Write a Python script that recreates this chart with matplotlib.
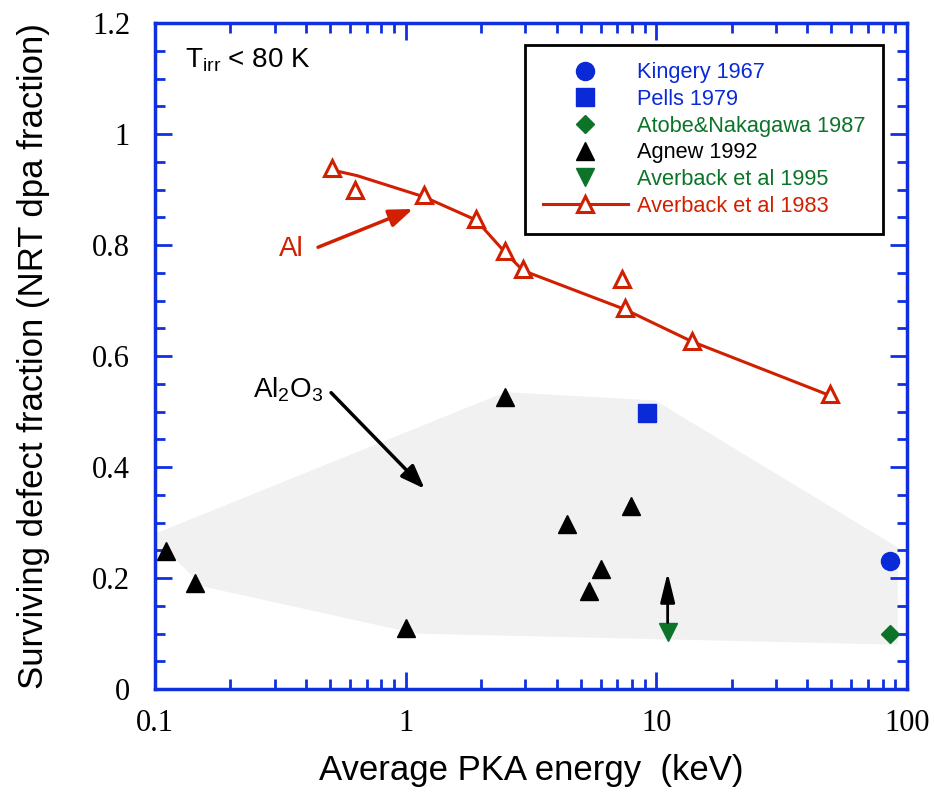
import numpy as np
import matplotlib
matplotlib.use("Agg")
import matplotlib.pyplot as plt
from matplotlib.lines import Line2D
from matplotlib.ticker import LogLocator, MultipleLocator, NullFormatter

plt.rcParams['font.family'] = ['Liberation Sans', 'DejaVu Sans']
plt.rcParams['mathtext.fontset'] = 'custom'
plt.rcParams['mathtext.rm'] = 'Liberation Sans'

# --- Data ---
# Averback et al 1983 (Al), open red triangles
al_x = [0.51, 0.63, 1.18, 1.91, 2.49, 2.94, 7.29, 7.5, 13.9, 49.2]
al_y = [0.939, 0.900, 0.890, 0.847, 0.789, 0.756, 0.738, 0.686, 0.628, 0.531]
# guide line through the Al data
al_line_x = [0.51, 0.64, 1.18, 1.91, 2.49, 2.94, 7.5, 13.9, 49.2]
al_line_y = [0.935, 0.925, 0.887, 0.845, 0.787, 0.754, 0.684, 0.626, 0.529]

# Agnew 1992 (Al2O3), filled black triangles
agnew_x = [0.1106, 0.1444, 1.0, 2.49, 4.40, 5.38, 6.01, 7.92]
agnew_y = [0.249, 0.191, 0.110, 0.527, 0.298, 0.177, 0.217, 0.329]

kingery_x = [85.5]
kingery_y = [0.231]
pells_x = [9.17]
pells_y = [0.498]
atobe_x = [85.5]
atobe_y = [0.099]
averback95_x = [11.1]
averback95_y = [0.102]

# shaded Al2O3 envelope
band_x = [0.1, 2.5, 9.9, 92, 92, 1.1, 0.155, 0.117, 0.1]
band_y = [0.28, 0.535, 0.52, 0.255, 0.08, 0.10, 0.185, 0.24, 0.245]

BLUE = '#0a2ad8'
AXBLUE = '#1030e0'
GREEN = '#0b7428'
RED = '#d02000'

fig = plt.figure(figsize=(9.34, 7.93), dpi=100)
ax = fig.add_axes([0.166, 0.131, 0.805, 0.840])

ax.fill(band_x, band_y, color='#f1f1f1', lw=0, zorder=0)

ax.plot(al_line_x, al_line_y, color=RED, lw=2.2, zorder=2)
ax.plot(al_x, al_y, ls='none', marker='^', ms=11, mfc='white', mec=RED, mew=2.2, zorder=3)
ax.plot(agnew_x, agnew_y, ls='none', marker='^', ms=12.5, color='black', zorder=3)
ax.plot(kingery_x, kingery_y, ls='none', marker='o', ms=13, color=BLUE, zorder=3)
ax.plot(pells_x, pells_y, ls='none', marker='s', ms=12.5, color=BLUE, zorder=3)
ax.plot(atobe_x, atobe_y, ls='none', marker='D', ms=9, color=GREEN, zorder=3)
ax.plot(averback95_x, averback95_y, ls='none', marker='v', ms=12.5, color=GREEN, zorder=3)

# arrows and annotations
ax.annotate('', xy=(11.1, 0.21), xytext=(11.1, 0.12),
            arrowprops=dict(arrowstyle='-|>,head_width=0.22,head_length=0.9',
                            color='black', lw=2, mutation_scale=20,
                            shrinkA=0, shrinkB=0))
ax.annotate('', xy=(1.07, 0.865), xytext=(0.447, 0.796),
            arrowprops=dict(arrowstyle='-|>,head_width=0.3,head_length=0.8',
                            color=RED, lw=2.5, mutation_scale=18,
                            shrinkA=0, shrinkB=0))
ax.annotate('', xy=(1.19, 0.361), xytext=(0.504, 0.534),
            arrowprops=dict(arrowstyle='-|>,head_width=0.3,head_length=0.8',
                            color='black', lw=2.5, mutation_scale=18,
                            shrinkA=0, shrinkB=0))

ax.text(0.351, 0.792, 'Al', color=RED, fontsize=20, ha='center', va='center')
ax.text(0.246, 0.525, r'Al$_\mathrm{2}$O$_\mathrm{3}$', fontsize=20, ha='left', va='baseline')
ax.text(0.132, 1.121, r'T$_\mathrm{irr}$ < 80 K', fontsize=20, ha='left', va='baseline')

# axes
ax.set_xscale('log')
ax.set_xlim(0.1, 100)
ax.set_ylim(0, 1.2)
ax.set_xticks([0.1, 1, 10, 100])
ax.set_xticklabels(['0.1', '1', '10', '100'])
ax.xaxis.set_minor_locator(LogLocator(base=10, subs=np.arange(2, 10)))
ax.xaxis.set_minor_formatter(NullFormatter())
ax.set_yticks([0, 0.2, 0.4, 0.6, 0.8, 1.0, 1.2])
ax.set_yticklabels(['0', '0.2', '0.4', '0.6', '0.8', '1', '1.2'])
ax.yaxis.set_minor_locator(MultipleLocator(0.05))

for s in ax.spines.values():
    s.set_color(AXBLUE)
    s.set_linewidth(2.5)
ax.tick_params(which='both', direction='in', color=AXBLUE, top=True, right=True, width=2)
ax.tick_params(which='major', length=12, labelsize=22)
ax.tick_params(which='minor', length=7)
ax.tick_params(axis='y', which='major', pad=18)
ax.tick_params(axis='x', which='major', pad=14)
for lab in ax.get_xticklabels() + ax.get_yticklabels():
    lab.set_fontfamily('Liberation Serif')

ax.set_xlabel('Average PKA energy  (keV)', fontsize=25, labelpad=12)
ax.set_ylabel('Surviving defect fraction (NRT dpa fraction)', fontsize=25, labelpad=30)

# legend
handles = [
    Line2D([], [], ls='none', marker='o', ms=13, color=BLUE),
    Line2D([], [], ls='none', marker='s', ms=12.5, color=BLUE),
    Line2D([], [], ls='none', marker='D', ms=9, color=GREEN),
    Line2D([], [], ls='none', marker='^', ms=12.5, color='black'),
    Line2D([], [], ls='none', marker='v', ms=12.5, color=GREEN),
    Line2D([], [], color=RED, lw=2.2, marker='^', ms=11, mfc='white', mec=RED, mew=2.2),
]
labels = ['Kingery 1967', 'Pells 1979', 'Atobe&Nakagawa 1987', 'Agnew 1992',
          'Averback et al 1995', 'Averback et al 1983']
label_colors = [BLUE, BLUE, GREEN, 'black', GREEN, RED]
leg = ax.legend(handles, labels, loc='upper right', bbox_to_anchor=(0.968, 0.967),
                fontsize=15.7, frameon=True, fancybox=False, edgecolor='black',
                framealpha=1, handlelength=3.9, handletextpad=0.42, labelspacing=0.26,
                borderpad=0.8, borderaxespad=0)
leg.get_frame().set_linewidth(2)
for t, c in zip(leg.get_texts(), label_colors):
    t.set_color(c)

fig.savefig('out.png', dpi=100)
